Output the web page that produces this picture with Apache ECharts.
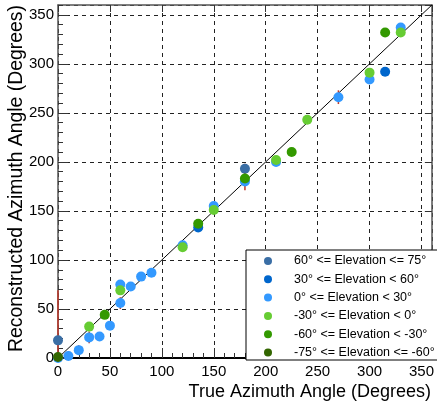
<!DOCTYPE html>
<html>
<head>
<meta charset="utf-8">
<script src="https://cdn.jsdelivr.net/npm/echarts@6/dist/echarts.min.js"></script>
<style>html,body{margin:0;padding:0;background:#fff}#c{width:437px;height:407px}</style>
</head>
<body>
<div id="c"></div>
<script>
// ---- data ----
var seriesNames = [
  '60\u00b0 <= Elevation <= 75\u00b0',
  '30\u00b0 <= Elevation < 60\u00b0',
  '0\u00b0 <= Elevation < 30\u00b0',
  '-30\u00b0 <= Elevation < 0\u00b0',
  '-60\u00b0 <= Elevation < -30\u00b0',
  '-75\u00b0 <= Elevation <= -60\u00b0'
];
var seriesColors = ['#3a6ea5', '#0066cc', '#3399ff', '#66cc33', '#339900', '#336600'];
// [true azimuth, reconstructed azimuth, error]
var elev60to75 = [[0, 18, 51], [180, 193, 5]];
var elev30to60 = [[135, 133, 0], [315, 292, 0]];
var elev0to30 = [[0, 0, 0], [10, 2, 5], [20, 8, 5], [30, 21, 6], [40, 22, 4], [50, 33, 4], [60, 56, 6], [60, 75, 4], [70, 73, 4], [80, 83, 4], [90, 87, 4], [120, 115, 3], [150, 155, 3], [180, 180, 9], [210, 200, 0], [270, 266, 7], [300, 284, 0], [330, 337, 0]];
var elevM30to0 = [[30, 32, 0], [60, 69, 0], [120, 113, 0], [150, 151, 0], [210, 202, 0], [240, 243, 0], [300, 291, 0], [330, 332, 0]];
var elevM60toM30 = [[45, 44, 0], [135, 137, 0], [180, 183, 0], [225, 210, 0], [315, 332, 0]];
var elevM75toM60 = [[0, 1, 0]];
var allSets = [elev60to75, elev30to60, elev0to30, elevM30to0, elevM60toM30, elevM75toM60];
var diagonal = [[0, 0], [360, 360]];
var axisMin = 0, axisMax = 360, majorStep = 50, minorStep = 10;

var FONT = '"Liberation Sans", Arial, Helvetica, sans-serif';
var chart = echarts.init(document.getElementById('c'), null, {renderer: 'canvas'});

function mainAxis(pos) {
  var horizontal = (pos === 'bottom' || pos === 'top');
  var primary = (pos === 'bottom' || pos === 'left');
  return {
    type: 'value', position: pos, min: axisMin, max: axisMax, interval: majorStep,
    axisLine: {show: true, onZero: false, lineStyle: {color: primary && horizontal ? '#000' : '#555', width: primary && horizontal ? 2 : 1.5}},
    axisTick: {show: true, inside: true, length: primary ? 10 : 7, lineStyle: {color: '#333', width: 1}},
    axisLabel: {show: primary, color: '#000', fontSize: 15, fontFamily: FONT, margin: horizontal ? 6 : 4, showMaxLabel: false},
    splitLine: {show: primary, lineStyle: {color: '#222', type: [4, 4], width: 1}}
  };
}
function minorAxis(pos) {
  return {
    type: 'value', position: pos, min: axisMin, max: axisMax, interval: minorStep,
    axisLine: {show: false}, axisLabel: {show: false}, splitLine: {show: false},
    axisTick: {show: true, inside: true, length: 5, lineStyle: {color: '#333', width: 1}}
  };
}

var series = [];
allSets.forEach(function (set, i) {
  series.push({
    type: 'custom', name: seriesNames[i] + ' err', silent: true, z: 3,
    data: set.filter(function (d) { return d[2] > 0; }),
    renderItem: function (params, api) {
      var x = api.value(0), y = api.value(1), e = api.value(2);
      var lo = Math.max(axisMin, y - e), hi = Math.min(axisMax, y + e);
      var p1 = api.coord([x, lo]), p2 = api.coord([x, hi]);
      return {type: 'line', shape: {x1: p1[0], y1: p1[1], x2: p2[0], y2: p2[1]}, style: {stroke: '#c0392b', lineWidth: 1.5}};
    }
  });
});
series.push({
  type: 'line', data: diagonal, symbol: 'none', silent: true, z: 2,
  lineStyle: {color: '#000', width: 1}
});
allSets.forEach(function (set, i) {
  series.push({
    type: 'scatter', name: seriesNames[i], data: set.map(function (d) { return [d[0], d[1]]; }),
    symbol: 'circle', symbolSize: 10, clip: false, z: 4,
    itemStyle: {color: seriesColors[i], opacity: 1}
  });
});

chart.setOption({
  animation: false,
  color: seriesColors,
  grid: {left: 58, right: 2, top: 5, bottom: 49, containLabel: false},
  xAxis: [mainAxis('bottom'), minorAxis('bottom'), mainAxis('top')],
  yAxis: [mainAxis('left'), minorAxis('left'), mainAxis('right')],
  legend: {
    data: seriesNames, orient: 'vertical', left: 259, top: 249, padding: 5,
    itemWidth: 8, itemHeight: 8, itemGap: 4.3, icon: 'circle', z: 10,
    textStyle: {fontSize: 12.5, fontFamily: FONT, color: '#000', padding: [0, 0, 0, 17], lineHeight: 14}
  },
  graphic: [
    {type: 'rect', z: 9, shape: {x: 246, y: 250, width: 192, height: 110}, style: {fill: '#fff', stroke: '#000', lineWidth: 1}},
    {type: 'text', z: 10, x: 431, y: 392, style: {text: 'True Azimuth Angle (Degrees)', font: '18px ' + FONT, fill: '#000', align: 'right', verticalAlign: 'middle'}},
    {type: 'text', z: 10, x: 17, y: 5, rotation: Math.PI / 2, style: {text: 'Reconstructed Azimuth Angle (Degrees)', font: '19.4px ' + FONT, fill: '#000', align: 'right', verticalAlign: 'middle'}}
  ],
  series: series
});
</script>
</body>
</html>
